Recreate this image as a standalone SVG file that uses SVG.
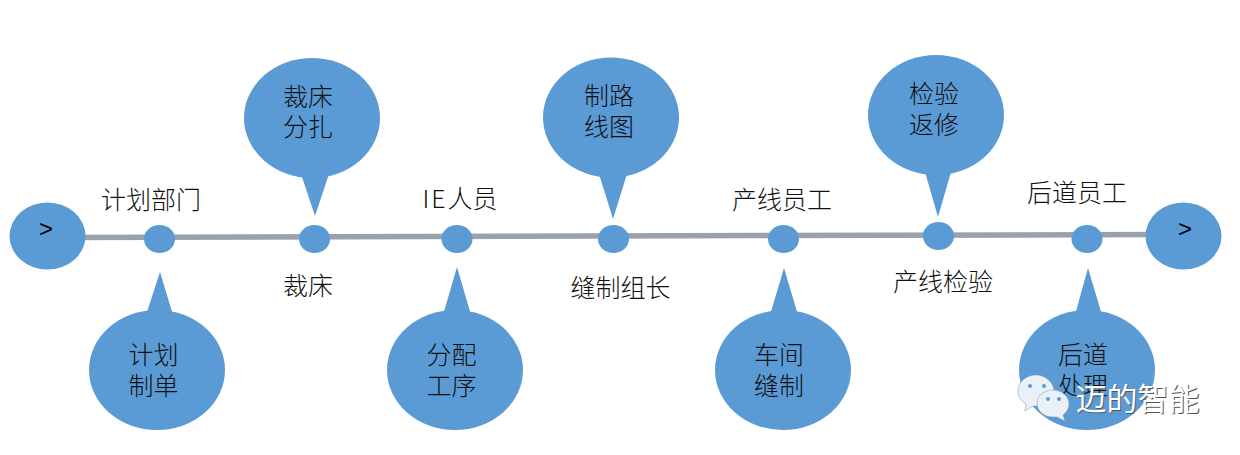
<svg xmlns="http://www.w3.org/2000/svg" width="1240" height="455" viewBox="0 0 1240 455">
<style>
.b{fill:#5b9bd5}
text{font-family:"Noto Sans CJK SC","Noto Sans",sans-serif;font-size:25px;font-weight:300;fill:#111;text-anchor:middle}
.g{font-family:"Liberation Sans",sans-serif;font-size:24px;font-weight:400;fill:#000}
.w{font-size:31px;fill:#fff;text-anchor:start;font-weight:400}
.s{font-size:31px;fill:#555;text-anchor:start;font-weight:400}
.i{fill:#e9f0f8;stroke:#8a93a0;stroke-width:.5}
.d{fill:#5b9bd5}
</style>
<rect width="1240" height="455" fill="#fff"/>
<g id="connectors"><path d="M70 237.500L1160 234.500" stroke="#9aa0ae" stroke-width="5.500" fill="none"/></g>
<g id="start"><ellipse class="b" cx="47.500" cy="236" rx="38" ry="33.500"/><text class="g" x="46" y="237">&gt;</text></g>
<g id="end"><ellipse class="b" cx="1183.500" cy="236" rx="38" ry="33.500"/><text class="g" x="1185" y="237">&gt;</text></g>
<g id="step1"><ellipse class="b" cx="159.500" cy="239" rx="15.500" ry="14"/><text x="151" y="209">计划部门</text></g>
<g id="step2"><ellipse class="b" cx="314.500" cy="239" rx="15.500" ry="14"/><text x="308" y="295">裁床</text></g>
<g id="step3"><ellipse class="b" cx="457" cy="239" rx="15.500" ry="14"/><text x="460" y="208"><tspan letter-spacing="2">IE</tspan>人员</text></g>
<g id="step4"><ellipse class="b" cx="613.500" cy="239" rx="15.500" ry="14"/><text x="620.500" y="297">缝制组长</text></g>
<g id="step5"><ellipse class="b" cx="783.500" cy="239" rx="15.500" ry="14"/><text x="782" y="209">产线员工</text></g>
<g id="step6"><ellipse class="b" cx="938.500" cy="236" rx="15.500" ry="14"/><text x="943" y="291">产线检验</text></g>
<g id="step7"><ellipse class="b" cx="1087" cy="239" rx="15.500" ry="14"/><text x="1077" y="202">后道员工</text></g>
<g id="bubble-plan"><ellipse class="b" cx="157" cy="370" rx="68" ry="60"/><path class="b" d="M160 272L146 315H173Z"/><text x="153.500" y="364">计划</text><text x="153.500" y="395">制单</text></g>
<g id="bubble-cut"><ellipse class="b" cx="312" cy="118" rx="68" ry="60"/><path class="b" d="M315 216L301 174H329Z"/><text x="308" y="106">裁床</text><text x="308" y="136">分扎</text></g>
<g id="bubble-assign"><ellipse class="b" cx="455" cy="370" rx="68" ry="60"/><path class="b" d="M457 267L443 315H471Z"/><text x="451.500" y="364">分配</text><text x="451.500" y="395">工序</text></g>
<g id="bubble-route"><ellipse class="b" cx="611" cy="117.500" rx="68" ry="60"/><path class="b" d="M613 219L599 174H627Z"/><text x="609" y="105">制路</text><text x="609" y="136">线图</text></g>
<g id="bubble-sew"><ellipse class="b" cx="783" cy="370" rx="68" ry="60"/><path class="b" d="M784 268L770 315H798Z"/><text x="779" y="364">车间</text><text x="779" y="395">缝制</text></g>
<g id="bubble-check"><ellipse class="b" cx="936" cy="115" rx="68" ry="60"/><path class="b" d="M938 217L925 172H951Z"/><text x="934" y="103">检验</text><text x="934" y="134">返修</text></g>
<g id="bubble-post"><ellipse class="b" cx="1087" cy="370" rx="68" ry="60"/><path class="b" d="M1088 268L1075 315H1102Z"/><text x="1083" y="364">后道</text><text x="1083" y="395">处理</text></g>
<g id="watermark">
<path class="i" d="M1036 375c-10 0-18 7-18 16c0 6 3 10 8 13l-1 7l8-5c1 0 2 0 3 0c10 0 18-7 18-15s-8-16-18-16Z"/>
<circle class="d" cx="1030" cy="386" r="2"/><circle class="d" cx="1044" cy="386" r="2"/>
<path class="i" d="M1053 390c-9 0-16 6-16 13.500s7 13.500 16 13.500c2 0 3 0 4 0l8 4l-2-6c4-3 6-7 6-11.500c0-7.500-8-13.500-16-13.500Z"/>
<circle class="d" cx="1048" cy="399" r="2"/><circle class="d" cx="1059" cy="399" r="2"/>
<text class="s" x="1076.500" y="411">迈的智能</text><text class="w" x="1075.500" y="410">迈的智能</text>
</g>
</svg>
